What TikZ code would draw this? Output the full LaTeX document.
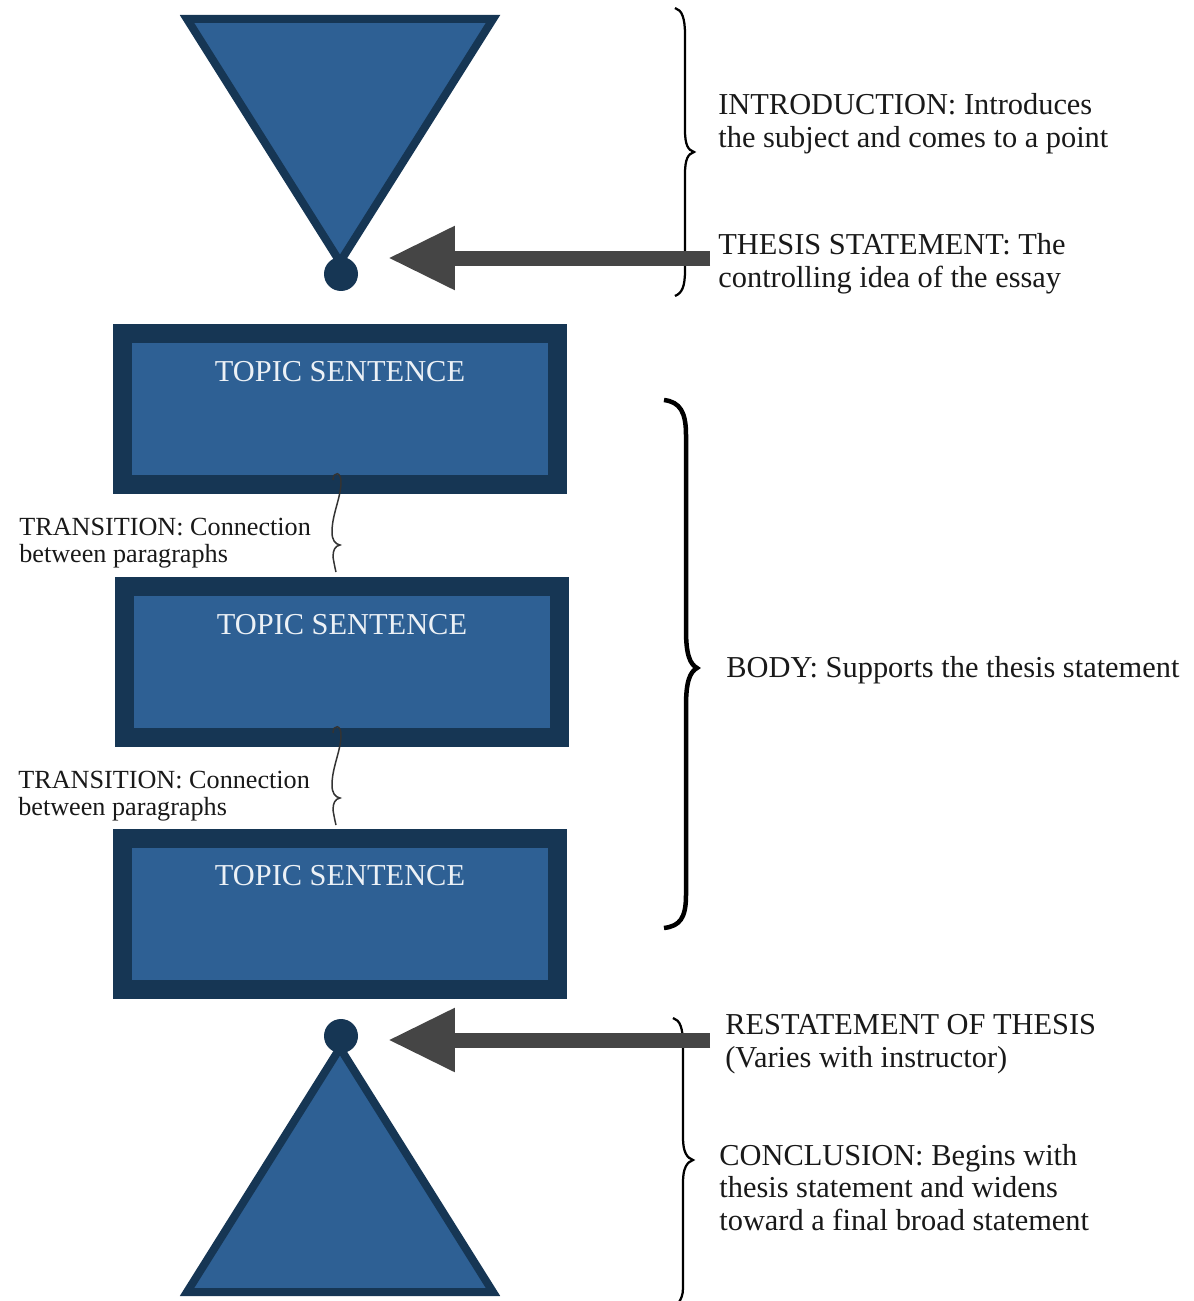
\documentclass[tikz,border=0pt]{standalone}
\usepackage{fontspec}
\setmainfont{Liberation Serif}
\usetikzlibrary{arrows.meta}
\definecolor{boxblue}{RGB}{46,96,148}
\definecolor{boxdark}{RGB}{22,54,84}
\definecolor{arrowgray}{RGB}{69,69,69}
\definecolor{inktext}{RGB}{25,25,25}
\definecolor{lighttext}{RGB}{236,241,246}
\tikzset{
  topicbox/.style={draw=boxdark, fill=boxblue, line width=0.38cm, minimum width=8.7cm, minimum height=3.04cm, inner sep=0pt},
  topictext/.style={anchor=base, text=lighttext, font=\fontsize{17.3}{19}\selectfont, inner sep=0pt},
  sidetext/.style={anchor=base west, align=left, text=inktext, font=\fontsize{17.3}{18.4}\selectfont, inner sep=0pt},
  transtext/.style={anchor=base west, align=left, text=inktext, font=\fontsize{14.9}{15.3}\selectfont, inner sep=0pt},
  dotnode/.style={circle, fill=boxdark, minimum size=0.68cm, inner sep=0pt},
  funnel/.style={draw=boxdark, fill=boxblue, line width=0.16cm, line join=miter},
  bigarrow/.style={draw=arrowgray, line width=0.3cm, -{Triangle[length=1.34cm 0 0, width=1.2cm 0 0]}},
  thinbrace/.style={draw=black, line width=0.045cm},
  thickbrace/.style={draw=black, line width=0.09cm},
  squiggle/.style={draw=black!80, line width=0.03cm}
}
\begin{document}
\begin{tikzpicture}[x=0.02cm, y=-0.02cm]
\useasboundingbox (0,0) rectangle (1193,1301);

% braces (behind the arrows)
\draw[thinbrace] (675,8) .. controls (682,10) and (685,18) .. (685,35) -- (685,130)
  .. controls (685,145) and (688,150) .. (694,152)
  .. controls (688,154) and (685,159) .. (685,174) -- (685,270)
  .. controls (685,287) and (682,293) .. (675,296);
\draw[thickbrace] (664,400) .. controls (680,402) and (686,412) .. (686,435) -- (686,630)
  .. controls (686,655) and (690,664) .. (697,668)
  .. controls (690,672) and (686,681) .. (686,706) -- (686,895)
  .. controls (686,918) and (680,926) .. (664,928);
\draw[thinbrace] (673,1018) .. controls (680,1020) and (683,1028) .. (683,1045) -- (683,1138)
  .. controls (683,1152) and (687,1158) .. (693,1160)
  .. controls (687,1162) and (683,1168) .. (683,1182) -- (683,1288)
  .. controls (683,1295) and (681,1299) .. (679,1302);

% funnels
\draw[funnel] (187,19) -- (493,19) -- (340,262) -- cycle;
\draw[funnel] (340,1048) -- (493,1292) -- (187,1292) -- cycle;

% dots
\node[dotnode] (dot1) at (341,274) {};
\node[dotnode] (dot2) at (341,1036) {};

% topic boxes
\node[topicbox] (r1) at (340,409) {};
\node[topicbox] (r2) at (342,662) {};
\node[topicbox] (r3) at (340,914) {};
\node[topictext] (t1) at (340,381) {TOPIC SENTENCE};
\node[topictext] (t2) at (342,634) {TOPIC SENTENCE};
\node[topictext] (t3) at (340,885) {TOPIC SENTENCE};

% transition squiggles
\draw[squiggle] (333,480) .. controls (333,471) and (342,471) .. (341,484)
  .. controls (340,500) and (332,515) .. (332,532)
  .. controls (332,540) and (335,544) .. (340,545)
  .. controls (335,546) and (333,550) .. (333,557)
  .. controls (334,563) and (335,568) .. (336,572);
\draw[squiggle] (333,733) .. controls (333,724) and (342,724) .. (341,737)
  .. controls (340,753) and (332,768) .. (332,785)
  .. controls (332,793) and (335,797) .. (340,798)
  .. controls (335,799) and (333,803) .. (333,810)
  .. controls (334,816) and (335,821) .. (336,825);

% arrows
\coordinate (a1) at (710,258);
\coordinate (a2) at (710,1040);
\draw[bigarrow, shorten >=0.94cm] (a1) -- (dot1.center |- a1);
\draw[bigarrow, shorten >=0.94cm] (a2) -- (dot2.center |- a2);

% texts (base anchor = baseline of the last line)
\node[sidetext] (intro) at (718,147) {INTRODUCTION: Introduces\\the subject and comes to a point};
\node[sidetext] (thesis) at (718,287) {THESIS STATEMENT: The\\controlling idea of the essay};
\node[sidetext] (body) at (726,677) {BODY: Supports the thesis statement};
\node[sidetext] (restate) at (725,1067) {RESTATEMENT OF THESIS\\(Varies with instructor)};
\node[sidetext] (concl) at (719,1230) {CONCLUSION: Begins with\\thesis statement and widens\\toward a final broad statement};
\node[transtext] (tr1) at (19,562) {TRANSITION: Connection\\between paragraphs};
\node[transtext] (tr2) at (18,815) {TRANSITION: Connection\\between paragraphs};
\end{tikzpicture}
\end{document}
